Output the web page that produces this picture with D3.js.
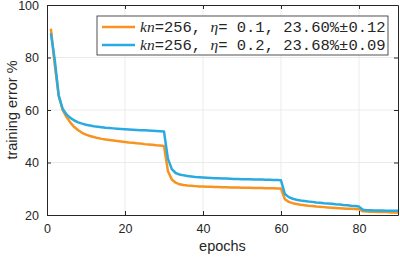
<!DOCTYPE html>
<html>
<head>
<meta charset="utf-8">
<script src="https://cdn.jsdelivr.net/npm/d3@7"></script>
<style>
  body { margin: 0; background: #fff; }
  svg { display: block; }
</style>
</head>
<body>
<div id="chart"></div>
<script>
// epochs 1..90
var epochs = d3.range(1, 91);

// kn=256, eta=0.1
var errEta01 = [
  91.0, 77.0, 65.5, 60.0, 57.3, 55.2, 53.5, 52.3, 51.3, 50.6,
  50.1, 49.7, 49.3, 49.0, 48.8, 48.6, 48.4, 48.2, 48.0, 47.8,
  47.6, 47.5, 47.3, 47.2, 47.0, 46.9, 46.8, 46.6, 46.5, 46.3,
  36.8, 33.5, 32.3, 31.7, 31.4, 31.2, 31.1, 31.0, 30.9, 30.9,
  30.8, 30.8, 30.7, 30.7, 30.6, 30.6, 30.5, 30.5, 30.5, 30.4,
  30.4, 30.4, 30.3, 30.3, 30.3, 30.2, 30.2, 30.2, 30.1, 30.1,
  26.0, 25.0, 24.5, 24.2, 23.9, 23.7, 23.5, 23.4, 23.2, 23.1,
  23.0, 22.9, 22.8, 22.7, 22.6, 22.5, 22.4, 22.4, 22.3, 22.2,
  21.4, 21.3, 21.2, 21.2, 21.1, 21.1, 21.1, 21.0, 21.0, 21.0
];

// kn=256, eta=0.2
var errEta02 = [
  89.2, 79.0, 65.5, 60.5, 58.3, 57.0, 56.0, 55.3, 54.8, 54.4,
  54.1, 53.8, 53.6, 53.4, 53.2, 53.1, 53.0, 52.9, 52.8, 52.7,
  52.6, 52.5, 52.4, 52.3, 52.3, 52.2, 52.1, 52.0, 51.9, 51.8,
  41.5, 37.5, 36.0, 35.4, 35.1, 34.9, 34.7, 34.5, 34.4, 34.3,
  34.2, 34.1, 34.0, 34.0, 33.9, 33.9, 33.8, 33.7, 33.7, 33.6,
  33.6, 33.6, 33.5, 33.5, 33.5, 33.4, 33.4, 33.3, 33.3, 33.2,
  28.0, 26.8, 26.2, 25.8, 25.5, 25.3, 25.1, 25.0, 24.8, 24.7,
  24.5, 24.4, 24.3, 24.1, 24.0, 23.8, 23.7, 23.5, 23.4, 23.2,
  22.0, 21.8, 21.8, 21.7, 21.7, 21.7, 21.6, 21.6, 21.6, 21.6
];

var xTicks = [0, 20, 40, 60, 80];
var yTicks = [20, 40, 60, 80, 100];

var seriesNames = ["0.1", "0.2"];
var seriesStats = ["23.60%\u00b10.12", "23.68%\u00b10.09"];
var seriesColors = ["#f7931e", "#29abe2"];
var seriesValues = [errEta01, errEta02];

var W = 400, H = 257;
var margin = {top: 5, right: 2, bottom: 42, left: 47};
var width = W - margin.left - margin.right,
    height = H - margin.top - margin.bottom;

var x = d3.scaleLinear().domain([0, 90]).range([0, width]);
var y = d3.scaleLinear().domain([20, 100]).range([height, 0]);

var svg = d3.select("#chart").append("svg")
  .attr("width", W).attr("height", H);

var main = svg.append("g")
  .attr("transform", "translate(" + margin.left + "," + margin.top + ")");

// grid
main.append("g").selectAll("line").data(xTicks.filter(function(d){ return d > 0; }))
  .enter().append("line")
  .attr("x1", function(d){ return x(d); }).attr("x2", function(d){ return x(d); })
  .attr("y1", 0).attr("y2", height)
  .attr("stroke", "#ebebeb").attr("stroke-width", 1);
main.append("g").selectAll("line").data(yTicks.filter(function(d){ return d > 20 && d < 100; }))
  .enter().append("line")
  .attr("y1", function(d){ return y(d); }).attr("y2", function(d){ return y(d); })
  .attr("x1", 0).attr("x2", width)
  .attr("stroke", "#ebebeb").attr("stroke-width", 1);

// lines
var line = d3.line()
  .x(function(d, i){ return x(epochs[i]); })
  .y(function(d){ return y(d); });

seriesValues.forEach(function(vals, k){
  main.append("path")
    .datum(vals)
    .attr("fill", "none")
    .attr("stroke", seriesColors[k])
    .attr("stroke-width", 2.5)
    .attr("stroke-linejoin", "round")
    .attr("d", line);
});

// axes with inward ticks, box around
var axisColor = "#262626";
function styleAxis(g){
  g.select(".domain").attr("stroke", axisColor);
  g.selectAll(".tick line").attr("stroke", axisColor);
  g.selectAll(".tick text").attr("fill", axisColor)
    .style("font-family", "'Liberation Sans', Arial, sans-serif")
    .style("font-size", "12.5px");
}

main.append("g")
  .attr("transform", "translate(0," + height + ")")
  .call(d3.axisBottom(x).tickValues(xTicks).tickSizeInner(-4).tickSizeOuter(0).tickPadding(9))
  .call(styleAxis);
main.append("g")
  .call(d3.axisTop(x).tickValues(xTicks).tickSizeInner(-4).tickSizeOuter(0).tickFormat(""))
  .call(styleAxis);
main.append("g")
  .call(d3.axisLeft(y).tickValues(yTicks).tickSizeInner(-4).tickSizeOuter(0).tickPadding(8))
  .call(styleAxis);
main.append("g")
  .attr("transform", "translate(" + width + ",0)")
  .call(d3.axisRight(y).tickValues(yTicks).tickSizeInner(-4).tickSizeOuter(0).tickFormat(""))
  .call(styleAxis);

// legend
var lg = svg.append("g").attr("transform", "translate(97,16)");
lg.append("rect")
  .attr("x", 0).attr("y", 0).attr("width", 291).attr("height", 39)
  .attr("fill", "#fff").attr("stroke", axisColor).attr("stroke-width", 0.8);

seriesNames.forEach(function(name, k){
  var cy = 11 + k * 18;
  lg.append("line")
    .attr("x1", 5).attr("x2", 38).attr("y1", cy).attr("y2", cy)
    .attr("stroke", seriesColors[k]).attr("stroke-width", 2.5);
  var t = lg.append("text")
    .attr("x", 43).attr("y", cy + 5)
    .attr("fill", axisColor)
    .style("font-family", "'Liberation Mono', 'Courier New', monospace")
    .style("font-size", "15.5px");
  t.append("tspan").style("font-family", "'Liberation Serif', 'Times New Roman', serif")
    .style("font-style", "italic").text("kn");
  t.append("tspan").text("=256, ");
  t.append("tspan").style("font-family", "'Liberation Serif', 'Times New Roman', serif")
    .style("font-style", "italic").text("\u03b7");
  t.append("tspan").text("= " + name + ", " + seriesStats[k]);
});

// axis titles
svg.append("text")
  .attr("text-anchor", "middle")
  .attr("transform", "translate(17," + (margin.top + height / 2) + ")rotate(-90)")
  .attr("fill", axisColor)
  .style("font-family", "'Liberation Sans', Arial, sans-serif")
  .style("font-size", "14.5px")
  .text("training error %");

svg.append("text")
  .attr("text-anchor", "middle")
  .attr("x", margin.left + width / 2).attr("y", 251)
  .attr("fill", axisColor)
  .style("font-family", "'Liberation Sans', Arial, sans-serif")
  .style("font-size", "14.5px")
  .text("epochs");
</script>
</body>
</html>
